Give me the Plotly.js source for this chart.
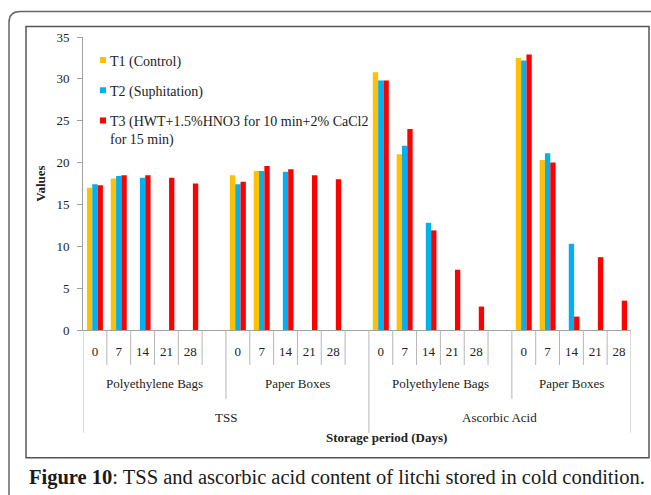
<!DOCTYPE html>
<html><head><meta charset="utf-8">
<script src="https://cdn.plot.ly/plotly-3.0.1.min.js"></script>
<style>html,body{margin:0;padding:0;background:#fff;}#chart{width:651px;height:495px;}</style>
</head><body><div id="chart"></div>
<script>
const measures = ["TSS", "Ascorbic Acid"];
const packages = ["Polyethylene Bags", "Paper Boxes"];
const days = ["0", "7", "14", "21", "28"];
const seriesNames = ["T1 (Control)", "T2 (Suphitation)", "T3 (HWT+1.5%HNO3 for 10 min+2% CaCl2<br>for 15 min)"];
// order: TSS-Polyethylene, TSS-Paper, Ascorbic-Polyethylene, Ascorbic-Paper; days 0,7,14,21,28
const t1 = [17.0, 18.1, null, null, null, 18.5, 19.0, null, null, null, 30.8, 21.0, null, null, null, 32.5, 20.3, null, null, null];
const t2 = [17.4, 18.4, 18.2, null, null, 17.4, 19.0, 18.9, null, null, 29.8, 22.0, 12.8, null, null, 32.2, 21.1, 10.3, null, null];
const t3 = [17.3, 18.5, 18.5, 18.2, 17.5, 17.7, 19.6, 19.2, 18.5, 18.0, 29.8, 24.0, 11.9, 7.2, 2.8, 32.9, 20.0, 1.6, 8.7, 3.5];
const colors = ["#FFC000", "#00B0F0", "#FF0000"];

const FONT = "Liberation Serif";

// Build category slots (a blank slot after each package group except the last)
const xPos = [], tickVals = [], tickText = [];
const groupInfo = [], measureInfo = [], boundaries = [];
let slot = 0;
measures.forEach((m, mi) => {
  const mStart = slot;
  packages.forEach((p, pi) => {
    const gStart = slot;
    boundaries.push({x: slot - 0.5, level: (pi === 0) ? 3 : 2});
    days.forEach((d, di) => {
      if (di > 0) boundaries.push({x: slot - 0.5, level: 1});
      xPos.push(slot); tickVals.push(slot); tickText.push(d);
      slot++;
    });
    const last = (mi === measures.length - 1 && pi === packages.length - 1);
    if (!last) { boundaries.push({x: slot - 0.5, level: 1}); slot++; }
    groupInfo.push({label: p, center: (gStart - 0.5 + slot - 0.5) / 2});
  });
  measureInfo.push({label: m, center: (mStart - 0.5 + slot - 0.5) / 2});
});
boundaries.push({x: slot - 0.5, level: 3});
const nSlots = slot;

const allSeries = [t1, t2, t3];
const traces = allSeries.map((vals, i) => ({
  type: "bar", x: xPos, y: vals, name: seriesNames[i],
  marker: {color: colors[i], line: {width: 0}},
  legendgroup: "g" + i, hoverinfo: "y"
}));

// pixel helpers for decoration (plot area: x 83..631, y 36.5..330)
const L = 83, R = 631, T = 36.5, B = 330;
const px = X => (X - L) / (R - L);
const py = Y => (B - Y) / (B - T);
const lvlY = {1: 365, 2: 399, 3: 433};

const shapes = boundaries.map(b => ({
  type: "line", xref: "x", yref: "paper", x0: b.x, x1: b.x, y0: 0, y1: py(lvlY[b.level]),
  line: {color: "#b5b5b5", width: 1}
}));
// inner chart frame
shapes.push({type: "rect", xref: "paper", yref: "paper", x0: px(26), x1: px(649), y0: py(458), y1: py(26),
  line: {color: "#555", width: 1.5}});
// outer rounded page frame
shapes.push({type: "path", xref: "paper", yref: "paper",
  path: `M${px(9)},${py(500)} L${px(9)},${py(22)} Q${px(9)},${py(11)} ${px(20)},${py(11)} L${px(700)},${py(11)}`,
  line: {color: "#666", width: 1.5}});

const txtFont = {family: FONT, size: 13, color: "#222"};
const annotations = [];
groupInfo.forEach(g => annotations.push({xref: "x", yref: "paper", x: g.center, y: py(384), yanchor: "middle",
  text: g.label, showarrow: false, font: txtFont}));
measureInfo.forEach(g => annotations.push({xref: "x", yref: "paper", x: g.center, y: py(418), yanchor: "middle",
  text: g.label, showarrow: false, font: txtFont}));
annotations.push({xref: "paper", yref: "paper", x: px(386), y: py(438), yanchor: "middle",
  text: "<b>Storage period (Days)</b>", showarrow: false, font: txtFont});
annotations.push({xref: "paper", yref: "paper", x: px(27), xanchor: "left", y: py(478), yanchor: "middle",
  text: "<b>Figure 10</b>: TSS and ascorbic acid content of litchi stored in cold condition.",
  showarrow: false, font: {family: FONT, size: 20.5, color: "#1a1a1a"}});

const layout = {
  width: 651, height: 495,
  margin: {l: L, r: 651 - R, t: T, b: 495 - B, pad: 0},
  paper_bgcolor: "#fff", plot_bgcolor: "#fff",
  barmode: "group", bargap: 0.33, bargroupgap: 0,
  font: {family: FONT, size: 13, color: "#222"},
  showlegend: true,
  legend: {x: px(70), xanchor: "left", y: py(44), yanchor: "top", bgcolor: "rgba(0,0,0,0)",
    font: {family: FONT, size: 14, color: "#222"}, tracegroupgap: 9, valign: "top",
    traceorder: "grouped"},
  xaxis: {range: [-0.5, nSlots - 0.5], tickmode: "array", tickvals: tickVals, ticktext: tickText,
    showline: true, linecolor: "#a0a0a0", linewidth: 1, ticks: "", showgrid: false, zeroline: false,
    ticklabelstandoff: 9, tickfont: txtFont, fixedrange: true},
  yaxis: {range: [0, 35], dtick: 5, tick0: 0, showline: true, linecolor: "#a0a0a0", linewidth: 1,
    ticks: "outside", ticklen: 5, tickcolor: "#a0a0a0", showgrid: false, zeroline: false,
    ticklabelstandoff: 5, tickfont: txtFont,
    title: {text: "<b>Values</b>", font: txtFont, standoff: 7}, fixedrange: true},
  shapes: shapes, annotations: annotations
};

function shrinkLegend() {
  document.querySelectorAll("#chart .legend .legendpoints path").forEach(p => {
    p.setAttribute("d", "M3,3H-3V-3H3Z");
    p.setAttribute("transform", "translate(33,0)");
  });
}
Plotly.newPlot("chart", traces, layout, {staticPlot: true, displayModeBar: false}).then(() => {
  shrinkLegend();
  setTimeout(shrinkLegend, 50);
  setTimeout(shrinkLegend, 300);
});
</script></body></html>
